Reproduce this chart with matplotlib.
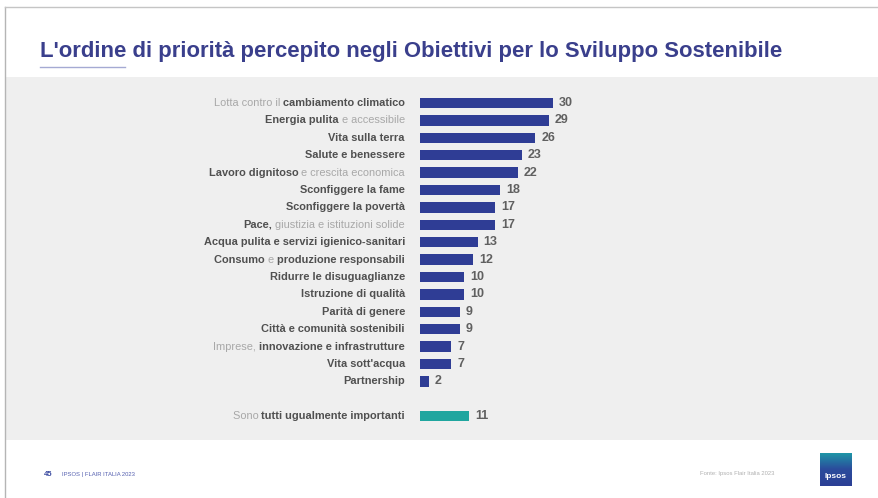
import matplotlib
matplotlib.use("Agg")
import matplotlib.pyplot as plt
import numpy as np
from matplotlib.patches import Rectangle
from matplotlib.lines import Line2D
from matplotlib.colors import LinearSegmentedColormap

# ---- data -------------------------------------------------------------
goals = [
    "Lotta contro il cambiamento climatico",
    "Energia pulita e accessibile",
    "Vita sulla terra",
    "Salute e benessere",
    "Lavoro dignitoso e crescita economica",
    "Sconfiggere la fame",
    "Sconfiggere la povertà",
    "Pace, giustizia e istituzioni solide",
    "Acqua pulita e servizi igienico-sanitari",
    "Consumo e produzione responsabili",
    "Ridurre le disuguaglianze",
    "Istruzione di qualità",
    "Parità di genere",
    "Città e comunità sostenibili",
    "Imprese, innovazione e infrastrutture",
    "Vita sott'acqua",
    "Partnership",
]
goal_values = [30, 29, 26, 23, 22, 18, 17, 17, 13, 12, 10, 10, 9, 9, 7, 7, 2]

all_equal_label = "Sono tutti ugualmente importanti"
all_equal_value = 11

# label fragments printed in the lighter grey (each used once, first match)
faded_parts = {
    "Lotta contro il cambiamento climatico": ["Lotta contro il "],
    "Energia pulita e accessibile": [" e accessibile"],
    "Lavoro dignitoso e crescita economica": [" e crescita economica"],
    "Pace, giustizia e istituzioni solide": [" giustizia e istituzioni solide"],
    "Consumo e produzione responsabili": ["e "],
    "Imprese, innovazione e infrastrutture": ["Imprese, "],
    "Sono tutti ugualmente importanti": ["Sono "],
}

title = "L'ordine di priorità percepito negli Obiettivi per lo Sviluppo Sostenibile"
footer_left = "IPSOS | FLAIR ITALIA 2023"
page_number = "45"
source = "Fonte: Ipsos Flair Italia 2023"

# ---- style ------------------------------------------------------------
W, H = 879, 498
BLUE = "#2f3d95"
TEAL = "#1fa69f"
DARK_TXT = "#505050"
LIGHT_TXT = "#a8a8a8"
TITLE_COL = "#3a3f8c"
PANEL = "#efefef"
FONT = "Liberation Sans"

fig = plt.figure(figsize=(W / 100, H / 100), dpi=100)
fig.patch.set_facecolor("white")


def fx(px):
    return px / W


def fy(py):
    return 1 - py / H


# background panel and frame lines
fig.add_artist(Rectangle((fx(6), fy(440)), fx(W - 6), (440 - 77) / H,
                         transform=fig.transFigure, facecolor=PANEL,
                         edgecolor="none", zorder=0))
fig.add_artist(Line2D([fx(5), fx(5)], [fy(7), 0], transform=fig.transFigure,
                      color="#b5b5b5", lw=1.0))
fig.add_artist(Line2D([fx(5), 1], [fy(7), fy(7)], transform=fig.transFigure,
                      color="#c5c5c5", lw=1.0))

# title
fig.text(fx(40), fy(51), title, fontsize=15.9, fontweight="bold",
         color=TITLE_COL, family=FONT, va="center", ha="left")
fig.add_artist(Line2D([fx(40), fx(125)], [fy(67), fy(67)],
                      transform=fig.transFigure, color="#8f95c8", lw=1.0,
                      alpha=0.8))

# ---- bar chart --------------------------------------------------------
px_per_unit = 133 / 30
ax_left, ax_right = 420, 640
ax_top, ax_bot = 90, 430
ax = fig.add_axes([fx(ax_left), fy(ax_bot), fx(ax_right - ax_left),
                   (ax_bot - ax_top) / H])
ax.set_xlim(0, (ax_right - ax_left) / px_per_unit)
step = 17.4
ax.set_ylim((ax_bot - 103) / step, (ax_top - 103) / step)
ax.axis("off")

positions = list(range(len(goals)))
other_pos = len(goals) + 1

ax.barh(positions, goal_values, height=0.6, color=BLUE)
ax.barh([other_pos], [all_equal_value], height=0.6, color=TEAL)


def split_label(text):
    pieces = []
    rest = text
    for f in faded_parts.get(text, []):
        i = rest.find(f)
        if i == -1:
            continue
        if i > 0:
            pieces.append((rest[:i], False))
        pieces.append((f, True))
        rest = rest[i + len(f):]
    if rest:
        pieces.append((rest, False))
    return pieces


def draw_label(text, y):
    # draw right to left, chaining each piece to the left edge of the next
    anchor = None
    for frag, is_faded in reversed(split_label(text)):
        kw = dict(fontsize=7.9, family=FONT, va="center", ha="right",
                  color=LIGHT_TXT if is_faded else DARK_TXT,
                  fontweight="normal" if is_faded else "bold",
                  annotation_clip=False)
        if anchor is None:
            anchor = ax.annotate(frag, xy=(0, y), xytext=(-15, 0),
                                 textcoords="offset pixels", **kw)
        else:
            anchor = ax.annotate(frag, xy=(0, 0.5), xycoords=anchor,
                                 xytext=(0, 0), textcoords="offset pixels",
                                 **kw)


def draw_value(val, y):
    ax.annotate(str(val), xy=(val, y), xytext=(6, 0),
                textcoords="offset pixels", va="center", ha="left",
                fontsize=9, fontweight="bold", color="#606060", family=FONT,
                annotation_clip=False)


for name, val, pos in zip(goals, goal_values, positions):
    draw_label(name, pos)
    draw_value(val, pos)

draw_label(all_equal_label, other_pos)
draw_value(all_equal_value, other_pos)

# ---- footer -----------------------------------------------------------
fig.text(fx(44), fy(474), page_number, fontsize=5.5, fontweight="bold",
         color="#3a4aa0", family=FONT, va="center")
fig.text(fx(62), fy(474), footer_left, fontsize=4.2, color="#5560b0",
         family=FONT, va="center")
fig.text(fx(700), fy(473), source, fontsize=4.2, color="#b0b0b0",
         family=FONT, va="center")

# Ipsos logo: gradient tile with wordmark
logo = fig.add_axes([fx(820), fy(486), fx(32), 33 / H])
grad = np.linspace(0, 1, 64).reshape(-1, 1)
cmap = LinearSegmentedColormap.from_list("ipsos", ["#1e9aa8", "#2b4c9c", "#2c3f95"])
logo.imshow(grad, aspect="auto", cmap=cmap, extent=(0, 1, 0, 1))
logo.text(0.5, 0.28, "Ipsos", color="white", fontsize=6, fontweight="bold",
          ha="center", va="center", family=FONT)
logo.axis("off")

fig.savefig("out.png", dpi=100, facecolor=fig.get_facecolor())
